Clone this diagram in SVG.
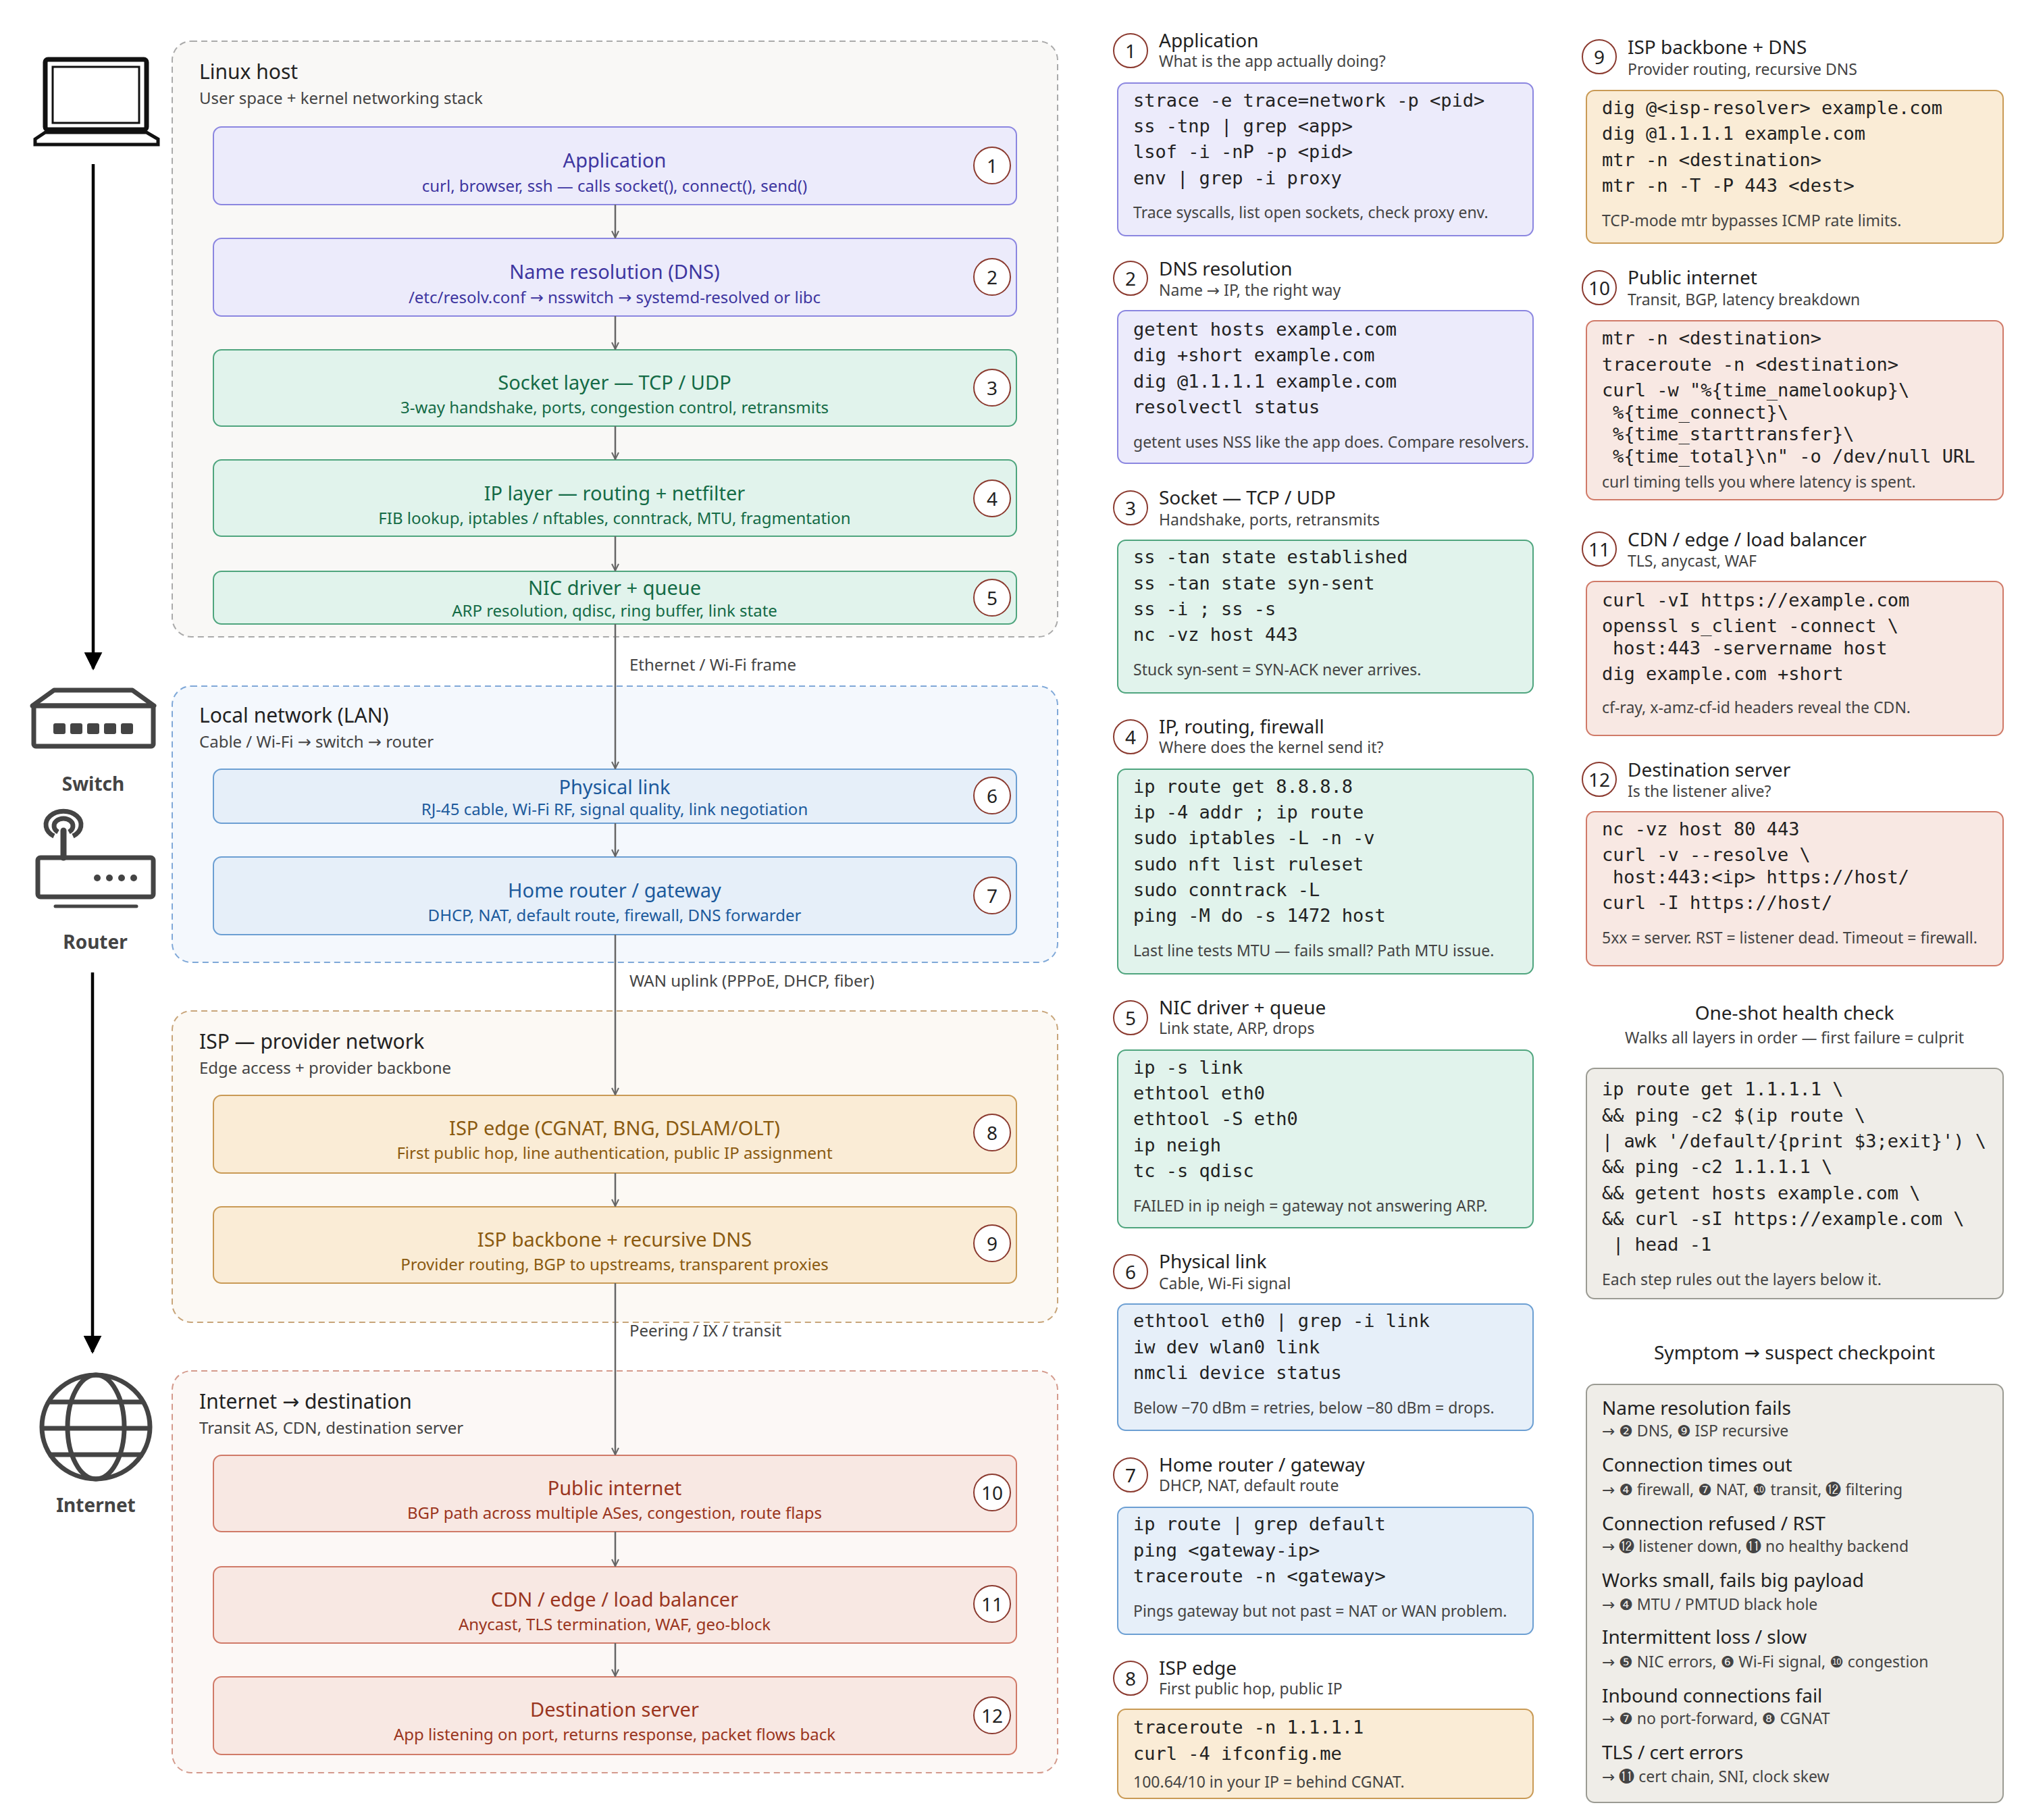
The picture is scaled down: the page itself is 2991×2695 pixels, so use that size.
<svg xmlns="http://www.w3.org/2000/svg" width="2991" height="2695" viewBox="0 0 2991 2695">
<defs>
<style>
text{font-family:"Noto Sans","DejaVu Sans",sans-serif;dominant-baseline:central}
.gt{font-size:30px;fill:#222}
.gs{font-size:24px;fill:#444}
.nt{font-size:29px;text-anchor:middle}
.ns{font-size:24px;text-anchor:middle}
.code{font-family:"DejaVu Sans Mono","Liberation Mono",monospace;font-size:27px;fill:#222}
.note{font-size:23px;fill:#444}
.ht{font-size:28px;fill:#222}
.hs{font-size:23px;fill:#444}
.bc{fill:#fff;stroke:#8b3a2f;stroke-width:2}
.bt{font-size:28px;text-anchor:middle;fill:#222}
.conn{stroke:#666;stroke-width:2.5;fill:none;marker-end:url(#ah)}
.clab{font-size:24px;fill:#444}
.pu{fill:#ecebfb;stroke:#8b86e0;stroke-width:2}
.gr{fill:#e1f3ec;stroke:#4fa57e;stroke-width:2}
.bl{fill:#e6eff9;stroke:#6c9fd3;stroke-width:2}
.am{fill:#faecd6;stroke:#c99a55;stroke-width:2}
.rd{fill:#f8e8e3;stroke:#d07a68;stroke-width:2}
.gy{fill:#efede8;stroke:#9b9b93;stroke-width:2}
.tpu{fill:#3e36a0}.tgr{fill:#146b46}.tbl{fill:#1c5a9c}.tam{fill:#8a5a10}.trd{fill:#9a3520}
.icon{fill:none;stroke:#444;stroke-width:7}
.il{font-size:28px;font-weight:bold;fill:#444;text-anchor:middle}
.sy{font-size:28px;fill:#222}
.ss{font-size:23px;fill:#444}
</style>
<marker id="ah" viewBox="0 0 12 12" refX="11" refY="6" markerWidth="12" markerHeight="12" markerUnits="userSpaceOnUse" orient="auto"><path d="M1,1 L11,6 L1,11" fill="none" stroke="#666" stroke-width="2"/></marker>
<marker id="big" viewBox="0 0 10 10" refX="9" refY="5" markerWidth="6" markerHeight="6" orient="auto"><path d="M0,0 L10,5 L0,10 z" fill="#000"/></marker>
</defs>
<rect width="2991" height="2695" fill="#fff"/>

<!-- icons -->
<g id="laptop">
<rect x="67" y="88" width="150" height="104" rx="4" fill="none" stroke="#111" stroke-width="7"/>
<rect x="78" y="99" width="128" height="83" fill="none" stroke="#111" stroke-width="3"/>
<path d="M67,196 L217,196 L234,206 L234,214 L52,214 L52,206 Z" fill="none" stroke="#111" stroke-width="5"/>
</g>
<g id="switch">
<path d="M80,1022 L196,1022 L228,1045 L48,1045 Z" class="icon" stroke-linejoin="round"/>
<rect x="50" y="1045" width="177" height="60" rx="3" class="icon"/>
<g fill="#444"><rect x="79" y="1071" width="18" height="16" rx="3"/><rect x="104" y="1071" width="18" height="16" rx="3"/><rect x="129" y="1071" width="18" height="16" rx="3"/><rect x="154" y="1071" width="18" height="16" rx="3"/><rect x="179" y="1071" width="18" height="16" rx="3"/></g>
<text class="il" x="138" y="1160">Switch</text>
</g>
<g id="router">
<path d="M80,1238 A26,20 0 1 1 108,1238" class="icon" stroke-width="5"/>
<path d="M86,1232 A14,11 0 1 1 102,1232" class="icon" stroke-width="5"/>
<line x1="94" y1="1230" x2="94" y2="1270" stroke="#444" stroke-width="9" stroke-linecap="round"/>
<rect x="56" y="1270" width="171" height="58" rx="4" class="icon"/>
<g fill="#444"><circle cx="144" cy="1300" r="5"/><circle cx="162" cy="1300" r="5"/><circle cx="180" cy="1300" r="5"/><circle cx="198" cy="1300" r="5"/></g>
<line x1="82" y1="1342" x2="202" y2="1342" stroke="#444" stroke-width="5" stroke-linecap="round"/>
<text class="il" x="141" y="1394">Router</text>
</g>
<g id="internet">
<ellipse cx="142" cy="2113" rx="80" ry="77" class="icon"/>
<ellipse cx="142" cy="2113" rx="42" ry="77" class="icon"/>
<line x1="72" y1="2076" x2="212" y2="2076" stroke="#444" stroke-width="7"/>
<line x1="62" y1="2115" x2="222" y2="2115" stroke="#444" stroke-width="7"/>
<line x1="72" y1="2154" x2="212" y2="2154" stroke="#444" stroke-width="7"/>
<text class="il" x="142" y="2228">Internet</text>
</g>
<g id="flow-arrows">
<line x1="138" y1="243" x2="138" y2="990" stroke="#000" stroke-width="4.5" marker-end="url(#big)"/>
<line x1="137" y1="1440" x2="137" y2="2002" stroke="#000" stroke-width="4.5" marker-end="url(#big)"/>
</g>

<!-- group boxes -->
<g id="g-linux"><rect x="255" y="61" width="1311" height="882" rx="28" fill="#f9f8f6" stroke="#aaa" stroke-width="2" stroke-dasharray="9 6"/>
<text class="gt" x="295" y="105">Linux host</text><text class="gs" x="295" y="144">User space + kernel networking stack</text></g>
<g id="g-lan"><rect x="255" y="1016" width="1311" height="409" rx="28" fill="#f4f8fd" stroke="#7fa8d8" stroke-width="2" stroke-dasharray="9 6"/>
<text class="gt" x="295" y="1058">Local network (LAN)</text><text class="gs" x="295" y="1097">Cable / Wi-Fi → switch → router</text></g>
<g id="g-isp"><rect x="255" y="1497" width="1311" height="461" rx="28" fill="#fcf9f4" stroke="#c8a57a" stroke-width="2" stroke-dasharray="9 6"/>
<text class="gt" x="295" y="1541">ISP — provider network</text><text class="gs" x="295" y="1580">Edge access + provider backbone</text></g>
<g id="g-inet"><rect x="255" y="2030" width="1311" height="595" rx="28" fill="#fcf8f6" stroke="#d49a8c" stroke-width="2" stroke-dasharray="9 6"/>
<text class="gt" x="295" y="2074">Internet → destination</text><text class="gs" x="295" y="2113">Transit AS, CDN, destination server</text></g>

<!-- nodes -->
<g id="n1"><rect class="pu" x="316" y="188" width="1189" height="115" rx="12"/><text class="nt tpu" x="910" y="236">Application</text><text class="ns tpu" x="910" y="274">curl, browser, ssh — calls socket(), connect(), send()</text><circle class="bc" cx="1469" cy="245" r="27"/><text class="bt" x="1469" y="245">1</text></g>
<g id="n2"><rect class="pu" x="316" y="353" width="1189" height="115" rx="12"/><text class="nt tpu" x="910" y="401">Name resolution (DNS)</text><text class="ns tpu" x="910" y="439">/etc/resolv.conf → nsswitch → systemd-resolved or libc</text><circle class="bc" cx="1469" cy="410" r="27"/><text class="bt" x="1469" y="410">2</text></g>
<g id="n3"><rect class="gr" x="316" y="518" width="1189" height="113" rx="12"/><text class="nt tgr" x="910" y="565">Socket layer — TCP / UDP</text><text class="ns tgr" x="910" y="602">3-way handshake, ports, congestion control, retransmits</text><circle class="bc" cx="1469" cy="574" r="27"/><text class="bt" x="1469" y="574">3</text></g>
<g id="n4"><rect class="gr" x="316" y="681" width="1189" height="113" rx="12"/><text class="nt tgr" x="910" y="729">IP layer — routing + netfilter</text><text class="ns tgr" x="910" y="766">FIB lookup, iptables / nftables, conntrack, MTU, fragmentation</text><circle class="bc" cx="1469" cy="738" r="27"/><text class="bt" x="1469" y="738">4</text></g>
<g id="n5"><rect class="gr" x="316" y="846" width="1189" height="78" rx="12"/><text class="nt tgr" x="910" y="869">NIC driver + queue</text><text class="ns tgr" x="910" y="903">ARP resolution, qdisc, ring buffer, link state</text><circle class="bc" cx="1469" cy="885" r="27"/><text class="bt" x="1469" y="885">5</text></g>
<g id="n6"><rect class="bl" x="316" y="1139" width="1189" height="80" rx="12"/><text class="nt tbl" x="910" y="1164">Physical link</text><text class="ns tbl" x="910" y="1197">RJ-45 cable, Wi-Fi RF, signal quality, link negotiation</text><circle class="bc" cx="1469" cy="1178" r="27"/><text class="bt" x="1469" y="1178">6</text></g>
<g id="n7"><rect class="bl" x="316" y="1269" width="1189" height="115" rx="12"/><text class="nt tbl" x="910" y="1317">Home router / gateway</text><text class="ns tbl" x="910" y="1354">DHCP, NAT, default route, firewall, DNS forwarder</text><circle class="bc" cx="1469" cy="1326" r="27"/><text class="bt" x="1469" y="1326">7</text></g>
<g id="n8"><rect class="am" x="316" y="1622" width="1189" height="115" rx="12"/><text class="nt tam" x="910" y="1669">ISP edge (CGNAT, BNG, DSLAM/OLT)</text><text class="ns tam" x="910" y="1706">First public hop, line authentication, public IP assignment</text><circle class="bc" cx="1469" cy="1677" r="27"/><text class="bt" x="1469" y="1677">8</text></g>
<g id="n9"><rect class="am" x="316" y="1787" width="1189" height="113" rx="12"/><text class="nt tam" x="910" y="1834">ISP backbone + recursive DNS</text><text class="ns tam" x="910" y="1871">Provider routing, BGP to upstreams, transparent proxies</text><circle class="bc" cx="1469" cy="1841" r="27"/><text class="bt" x="1469" y="1841">9</text></g>
<g id="n10"><rect class="rd" x="316" y="2155" width="1189" height="113" rx="12"/><text class="nt trd" x="910" y="2202">Public internet</text><text class="ns trd" x="910" y="2239">BGP path across multiple ASes, congestion, route flaps</text><circle class="bc" cx="1469" cy="2210" r="27"/><text class="bt" x="1469" y="2210">10</text></g>
<g id="n11"><rect class="rd" x="316" y="2320" width="1189" height="113" rx="12"/><text class="nt trd" x="910" y="2367">CDN / edge / load balancer</text><text class="ns trd" x="910" y="2404">Anycast, TLS termination, WAF, geo-block</text><circle class="bc" cx="1469" cy="2375" r="27"/><text class="bt" x="1469" y="2375">11</text></g>
<g id="n12"><rect class="rd" x="316" y="2483" width="1189" height="115" rx="12"/><text class="nt trd" x="910" y="2530">Destination server</text><text class="ns trd" x="910" y="2567">App listening on port, returns response, packet flows back</text><circle class="bc" cx="1469" cy="2540" r="27"/><text class="bt" x="1469" y="2540">12</text></g>

<!-- connectors -->
<g id="connectors">
<line class="conn" x1="911" y1="303" x2="911" y2="352"/>
<line class="conn" x1="911" y1="468" x2="911" y2="517"/>
<line class="conn" x1="911" y1="631" x2="911" y2="680"/>
<line class="conn" x1="911" y1="794" x2="911" y2="845"/>
<line class="conn" x1="911" y1="924" x2="911" y2="1138"/>
<line class="conn" x1="911" y1="1219" x2="911" y2="1268"/>
<line class="conn" x1="911" y1="1384" x2="911" y2="1621"/>
<line class="conn" x1="911" y1="1737" x2="911" y2="1786"/>
<line class="conn" x1="911" y1="1900" x2="911" y2="2154"/>
<line class="conn" x1="911" y1="2268" x2="911" y2="2319"/>
<line class="conn" x1="911" y1="2433" x2="911" y2="2482"/>
<text class="clab" x="932" y="983">Ethernet / Wi-Fi frame</text>
<text class="clab" x="932" y="1451">WAN uplink (PPPoE, DHCP, fiber)</text>
<text class="clab" x="932" y="1969">Peering / IX / transit</text>
</g>

<!-- checkpoint cards column 1 -->
<g id="c1"><circle class="bc" cx="1674" cy="75" r="25"/><text class="bt" x="1674" y="75">1</text><text class="ht" x="1716" y="59">Application</text><text class="hs" x="1716" y="90">What is the app actually doing?</text>
<rect class="pu" x="1655" y="123" width="615" height="226" rx="12"/>
<text class="code" x="1678" y="148">strace -e trace=network -p &lt;pid&gt;</text><text class="code" x="1678" y="186">ss -tnp | grep &lt;app&gt;</text><text class="code" x="1678" y="224">lsof -i -nP -p &lt;pid&gt;</text><text class="code" x="1678" y="263">env | grep -i proxy</text>
<text class="note" x="1678" y="314">Trace syscalls, list open sockets, check proxy env.</text></g>
<g id="c2"><circle class="bc" cx="1674" cy="412" r="25"/><text class="bt" x="1674" y="412">2</text><text class="ht" x="1716" y="397">DNS resolution</text><text class="hs" x="1716" y="429">Name → IP, the right way</text>
<rect class="pu" x="1655" y="460" width="615" height="226" rx="12"/>
<text class="code" x="1678" y="487">getent hosts example.com</text><text class="code" x="1678" y="525">dig +short example.com</text><text class="code" x="1678" y="564">dig @1.1.1.1 example.com</text><text class="code" x="1678" y="602">resolvectl status</text>
<text class="note" x="1678" y="654">getent uses NSS like the app does. Compare resolvers.</text></g>
<g id="c3"><circle class="bc" cx="1674" cy="752" r="25"/><text class="bt" x="1674" y="752">3</text><text class="ht" x="1716" y="736">Socket — TCP / UDP</text><text class="hs" x="1716" y="769">Handshake, ports, retransmits</text>
<rect class="gr" x="1655" y="800" width="615" height="226" rx="12"/>
<text class="code" x="1678" y="824">ss -tan state established</text><text class="code" x="1678" y="863">ss -tan state syn-sent</text><text class="code" x="1678" y="901">ss -i ; ss -s</text><text class="code" x="1678" y="939">nc -vz host 443</text>
<text class="note" x="1678" y="991">Stuck syn-sent = SYN-ACK never arrives.</text></g>
<g id="c4"><circle class="bc" cx="1674" cy="1091" r="25"/><text class="bt" x="1674" y="1091">4</text><text class="ht" x="1716" y="1075">IP, routing, firewall</text><text class="hs" x="1716" y="1106">Where does the kernel send it?</text>
<rect class="gr" x="1655" y="1139" width="615" height="303" rx="12"/>
<text class="code" x="1678" y="1164">ip route get 8.8.8.8</text><text class="code" x="1678" y="1202">ip -4 addr ; ip route</text><text class="code" x="1678" y="1240">sudo iptables -L -n -v</text><text class="code" x="1678" y="1279">sudo nft list ruleset</text><text class="code" x="1678" y="1317">sudo conntrack -L</text><text class="code" x="1678" y="1355">ping -M do -s 1472 host</text>
<text class="note" x="1678" y="1407">Last line tests MTU — fails small? Path MTU issue.</text></g>
<g id="c5"><circle class="bc" cx="1674" cy="1507" r="25"/><text class="bt" x="1674" y="1507">5</text><text class="ht" x="1716" y="1491">NIC driver + queue</text><text class="hs" x="1716" y="1522">Link state, ARP, drops</text>
<rect class="gr" x="1655" y="1555" width="615" height="263" rx="12"/>
<text class="code" x="1678" y="1580">ip -s link</text><text class="code" x="1678" y="1618">ethtool eth0</text><text class="code" x="1678" y="1656">ethtool -S eth0</text><text class="code" x="1678" y="1695">ip neigh</text><text class="code" x="1678" y="1733">tc -s qdisc</text>
<text class="note" x="1678" y="1785">FAILED in ip neigh = gateway not answering ARP.</text></g>
<g id="c6"><circle class="bc" cx="1674" cy="1883" r="25"/><text class="bt" x="1674" y="1883">6</text><text class="ht" x="1716" y="1867">Physical link</text><text class="hs" x="1716" y="1900">Cable, Wi-Fi signal</text>
<rect class="bl" x="1655" y="1931" width="615" height="187" rx="12"/>
<text class="code" x="1678" y="1955">ethtool eth0 | grep -i link</text><text class="code" x="1678" y="1994">iw dev wlan0 link</text><text class="code" x="1678" y="2032">nmcli device status</text>
<text class="note" x="1678" y="2084">Below −70 dBm = retries, below −80 dBm = drops.</text></g>
<g id="c7"><circle class="bc" cx="1674" cy="2184" r="25"/><text class="bt" x="1674" y="2184">7</text><text class="ht" x="1716" y="2168">Home router / gateway</text><text class="hs" x="1716" y="2199">DHCP, NAT, default route</text>
<rect class="bl" x="1655" y="2232" width="615" height="188" rx="12"/>
<text class="code" x="1678" y="2256">ip route | grep default</text><text class="code" x="1678" y="2295">ping &lt;gateway-ip&gt;</text><text class="code" x="1678" y="2333">traceroute -n &lt;gateway&gt;</text>
<text class="note" x="1678" y="2385">Pings gateway but not past = NAT or WAN problem.</text></g>
<g id="c8"><circle class="bc" cx="1674" cy="2485" r="25"/><text class="bt" x="1674" y="2485">8</text><text class="ht" x="1716" y="2469">ISP edge</text><text class="hs" x="1716" y="2500">First public hop, public IP</text>
<rect class="am" x="1655" y="2531" width="615" height="132" rx="12"/>
<text class="code" x="1678" y="2557">traceroute -n 1.1.1.1</text><text class="code" x="1678" y="2596">curl -4 ifconfig.me</text>
<text class="note" x="1678" y="2638">100.64/10 in your IP = behind CGNAT.</text></g>

<!-- column 2 -->
<g id="c9"><circle class="bc" cx="2368" cy="84" r="25"/><text class="bt" x="2368" y="84">9</text><text class="ht" x="2410" y="69">ISP backbone + DNS</text><text class="hs" x="2410" y="102">Provider routing, recursive DNS</text>
<rect class="am" x="2349" y="134" width="617" height="226" rx="12"/>
<text class="code" x="2372" y="159">dig @&lt;isp-resolver&gt; example.com</text><text class="code" x="2372" y="197">dig @1.1.1.1 example.com</text><text class="code" x="2372" y="236">mtr -n &lt;destination&gt;</text><text class="code" x="2372" y="274">mtr -n -T -P 443 &lt;dest&gt;</text>
<text class="note" x="2372" y="326">TCP-mode mtr bypasses ICMP rate limits.</text></g>
<g id="c10"><circle class="bc" cx="2368" cy="426" r="25"/><text class="bt" x="2368" y="426">10</text><text class="ht" x="2410" y="410">Public internet</text><text class="hs" x="2410" y="443">Transit, BGP, latency breakdown</text>
<rect class="rd" x="2349" y="475" width="617" height="265" rx="12"/>
<text class="code" x="2372" y="500">mtr -n &lt;destination&gt;</text><text class="code" x="2372" y="539">traceroute -n &lt;destination&gt;</text><text class="code" x="2372" y="577">curl -w "%{time_namelookup}\</text><text class="code" x="2388" y="610">%{time_connect}\</text><text class="code" x="2388" y="642">%{time_starttransfer}\</text><text class="code" x="2388" y="675">%{time_total}\n" -o /dev/null URL</text>
<text class="note" x="2372" y="713">curl timing tells you where latency is spent.</text></g>
<g id="c11"><circle class="bc" cx="2368" cy="813" r="25"/><text class="bt" x="2368" y="813">11</text><text class="ht" x="2410" y="798">CDN / edge / load balancer</text><text class="hs" x="2410" y="830">TLS, anycast, WAF</text>
<rect class="rd" x="2349" y="861" width="617" height="228" rx="12"/>
<text class="code" x="2372" y="888">curl -vI https://example.com</text><text class="code" x="2372" y="926">openssl s_client -connect \</text><text class="code" x="2388" y="959">host:443 -servername host</text><text class="code" x="2372" y="997">dig example.com +short</text>
<text class="note" x="2372" y="1047">cf-ray, x-amz-cf-id headers reveal the CDN.</text></g>
<g id="c12"><circle class="bc" cx="2368" cy="1154" r="25"/><text class="bt" x="2368" y="1154">12</text><text class="ht" x="2410" y="1139">Destination server</text><text class="hs" x="2410" y="1171">Is the listener alive?</text>
<rect class="rd" x="2349" y="1202" width="617" height="228" rx="12"/>
<text class="code" x="2372" y="1227">nc -vz host 80 443</text><text class="code" x="2372" y="1265">curl -v --resolve \</text><text class="code" x="2388" y="1298">host:443:&lt;ip&gt; https://host/</text><text class="code" x="2372" y="1336">curl -I https://host/</text>
<text class="note" x="2372" y="1388">5xx = server. RST = listener dead. Timeout = firewall.</text></g>
<g id="health"><text class="ht" x="2657" y="1499" text-anchor="middle">One-shot health check</text><text class="hs" x="2657" y="1536" text-anchor="middle">Walks all layers in order — first failure = culprit</text>
<rect class="gy" x="2349" y="1582" width="617" height="341" rx="12"/>
<text class="code" x="2372" y="1612">ip route get 1.1.1.1 \</text><text class="code" x="2372" y="1651">&amp;&amp; ping -c2 $(ip route \</text><text class="code" x="2372" y="1689">| awk '/default/{print $3;exit}') \</text><text class="code" x="2372" y="1727">&amp;&amp; ping -c2 1.1.1.1 \</text><text class="code" x="2372" y="1766">&amp;&amp; getent hosts example.com \</text><text class="code" x="2372" y="1804">&amp;&amp; curl -sI https://example.com \</text><text class="code" x="2388" y="1842">| head -1</text>
<text class="note" x="2372" y="1894">Each step rules out the layers below it.</text></g>
<g id="symptoms"><text class="ht" x="2657" y="2002" text-anchor="middle">Symptom → suspect checkpoint</text>
<rect class="gy" x="2349" y="2050" width="617" height="619" rx="12"/>
<text class="sy" x="2372" y="2084">Name resolution fails</text><text class="ss" x="2372" y="2118">→ ❷ DNS, ❾ ISP recursive</text>
<text class="sy" x="2372" y="2168">Connection times out</text><text class="ss" x="2372" y="2205">→ ❹ firewall, ❼ NAT, ❿ transit, ⓬ filtering</text>
<text class="sy" x="2372" y="2255">Connection refused / RST</text><text class="ss" x="2372" y="2289">→ ⓬ listener down, ⓫ no healthy backend</text>
<text class="sy" x="2372" y="2339">Works small, fails big payload</text><text class="ss" x="2372" y="2375">→ ❹ MTU / PMTUD black hole</text>
<text class="sy" x="2372" y="2423">Intermittent loss / slow</text><text class="ss" x="2372" y="2460">→ ❺ NIC errors, ❻ Wi-Fi signal, ❿ congestion</text>
<text class="sy" x="2372" y="2510">Inbound connections fail</text><text class="ss" x="2372" y="2544">→ ❼ no port-forward, ❽ CGNAT</text>
<text class="sy" x="2372" y="2594">TLS / cert errors</text><text class="ss" x="2372" y="2630">→ ⓫ cert chain, SNI, clock skew</text></g>
</svg>
